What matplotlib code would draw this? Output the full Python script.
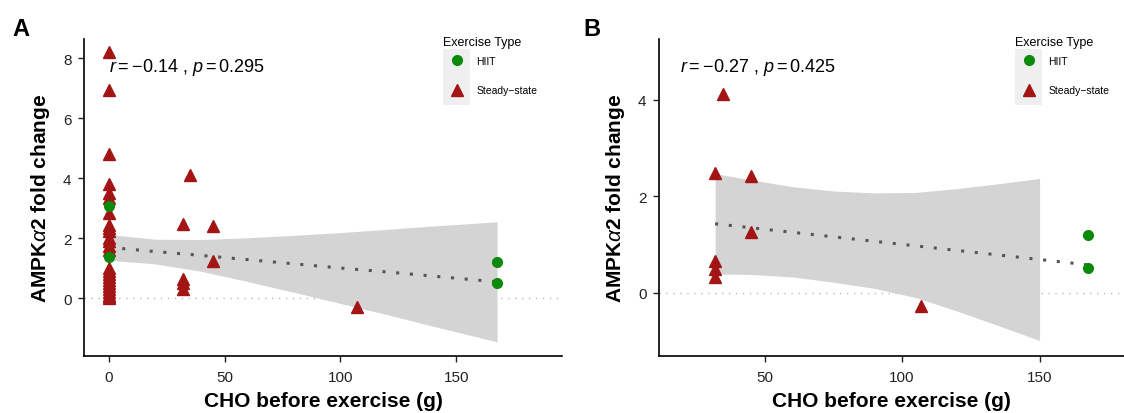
import matplotlib.pyplot as plt
from matplotlib.lines import Line2D
from matplotlib.patches import Rectangle

plt.rcParams['font.family'] = ['Liberation Sans', 'DejaVu Sans']
plt.rcParams['mathtext.fontset'] = 'custom'
plt.rcParams['mathtext.rm'] = 'Liberation Sans'
plt.rcParams['mathtext.it'] = 'Liberation Sans:italic'
plt.rcParams['mathtext.bf'] = 'Liberation Sans:bold'

# Panel A: all studies
a_ss_cho = [0] * 26 + [32, 32, 32, 32, 35, 45, 45, 107]
a_ss_fold = [8.2, 6.95, 4.8, 3.8, 3.5, 3.35, 2.85, 2.45, 2.35, 2.25, 2.0, 1.9, 1.75,
             1.6, 1.0, 0.9, 0.8, 0.7, 0.6, 0.5, 0.4, 0.3, 0.2, 0.1, 0.05, 0.0,
             2.48, 0.65, 0.5, 0.32, 4.12, 2.42, 1.25, -0.28]
a_hiit_cho = [0, 0, 167.5, 167.5]
a_hiit_fold = [3.08, 1.38, 1.2, 0.52]

a_fit_x = [0, 20, 40, 60, 80, 100, 120, 140, 167.5]
a_fit_y = [1.70, 1.56, 1.43, 1.29, 1.15, 1.01, 0.88, 0.74, 0.55]
a_fit_hi = [2.13, 1.97, 1.96, 2.02, 2.10, 2.19, 2.30, 2.41, 2.55]
a_fit_lo = [1.27, 1.15, 0.90, 0.56, 0.20, -0.17, -0.54, -0.93, -1.45]
a_label = r'$r = -0.14$ , $p = 0.295$'

# Panel B: studies with CHO > 0
b_ss_cho = [32, 32, 32, 32, 35, 45, 45, 107]
b_ss_fold = [2.48, 0.65, 0.5, 0.32, 4.12, 2.42, 1.25, -0.28]
b_hiit_cho = [167.5, 167.5]
b_hiit_fold = [1.2, 0.52]

b_band_x = [32, 45, 60, 75, 90, 105, 120, 135, 150]
b_band_hi = [2.47, 2.34, 2.20, 2.11, 2.07, 2.08, 2.16, 2.26, 2.37]
b_band_lo = [0.39, 0.38, 0.33, 0.22, 0.09, -0.10, -0.38, -0.68, -0.99]
b_fit_x = [32, 167.5]
b_fit_y = [1.43, 0.58]
b_label = r'$r = -0.27$ , $p = 0.425$'

red = '#a31515'
green = '#0b8a0b'

fig = plt.figure(figsize=(11.24, 4.14), dpi=100)
axA = fig.add_axes([0.0747, 0.1377, 0.4253, 0.7657])
axB = fig.add_axes([0.5863, 0.1377, 0.4137, 0.7657])


def style(ax):
    for s in ['top', 'right']:
        ax.spines[s].set_visible(False)
    for s in ['left', 'bottom']:
        ax.spines[s].set_linewidth(1.2)
    ax.tick_params(labelsize=11, length=4, width=1, pad=5, colors='#222222',
                   labelcolor='#222222')
    ax.tick_params(axis='x', pad=6)
    ax.set_xlabel('CHO before exercise (g)', fontsize=15, fontweight='bold', labelpad=5)
    ax.set_ylabel(r'AMPK$\alpha$2 fold change', fontsize=15, fontweight='bold', labelpad=8)
    ax.axhline(0, color='#bbbbbb', lw=1.0, ls=(0, (1, 4)), zorder=1)


def legend(ax, left_px):
    handles = [Line2D([], [], ls='none', marker='o', ms=7, color=green),
               Line2D([], [], ls='none', marker='^', ms=9, color=red)]
    leg = ax.legend(handles, ['HIIT', 'Steady\u2212state'],
                    loc='upper left', bbox_to_anchor=(left_px / 1124, 1 - 57 / 414),
                    bbox_transform=fig.transFigure, frameon=False, fontsize=7.5,
                    borderpad=0, borderaxespad=0, handlelength=2.6,
                    handletextpad=0.6, labelspacing=1.87)
    leg.set_zorder(6)
    fig.text(left_px / 1124, 1 - 43 / 414, 'Exercise Type', fontsize=9,
             ha='left', va='center')
    ax.add_patch(Rectangle((left_px / 1124, 1 - 106 / 414), 27 / 1124, 56 / 414,
                           transform=fig.transFigure, color='#efefef', lw=0,
                           clip_on=False, zorder=0.5))


# Panel A
style(axA)
axA.fill_between(a_fit_x, a_fit_lo, a_fit_hi, color='#d4d4d4', lw=0, zorder=2)
axA.plot(a_fit_x, a_fit_y, color='#555555', lw=2.2, ls=(0, (1, 3.5)), zorder=3)
axA.plot(a_ss_cho, a_ss_fold, ls='none', marker='^', ms=9, color=red, zorder=4)
axA.plot(a_hiit_cho, a_hiit_fold, ls='none', marker='o', ms=7, color=green, zorder=5)
axA.text(0, 7.74, a_label, fontsize=13, ha='left', va='center')
axA.set_xlim(-10.6, 195.5)
axA.set_ylim(-1.92, 8.64)
axA.set_xticks([0, 50, 100, 150])
axA.set_yticks([0, 2, 4, 6, 8])
legend(axA, 443)

# Panel B
style(axB)
axB.fill_between(b_band_x, b_band_lo, b_band_hi, color='#d4d4d4', lw=0, zorder=2)
axB.plot(b_fit_x, b_fit_y, color='#555555', lw=2.2, ls=(0, (1, 3.5)), zorder=3)
axB.plot(b_ss_cho, b_ss_fold, ls='none', marker='^', ms=9, color=red, zorder=4)
axB.plot(b_hiit_cho, b_hiit_fold, ls='none', marker='o', ms=7, color=green, zorder=5)
axB.text(19.3, 4.7, b_label, fontsize=13, ha='left', va='center')
axB.set_xlim(11.6, 180.7)
axB.set_ylim(-1.31, 5.26)
axB.set_xticks([50, 100, 150])
axB.set_yticks([0, 2, 4])
legend(axB, 1015)

fig.text(12 / 1124, 1 - 30 / 414, 'A', fontsize=17, fontweight='bold', va='center')
fig.text(583 / 1124, 1 - 30 / 414, 'B', fontsize=17, fontweight='bold', va='center')

fig.savefig('out.png', dpi=100)
